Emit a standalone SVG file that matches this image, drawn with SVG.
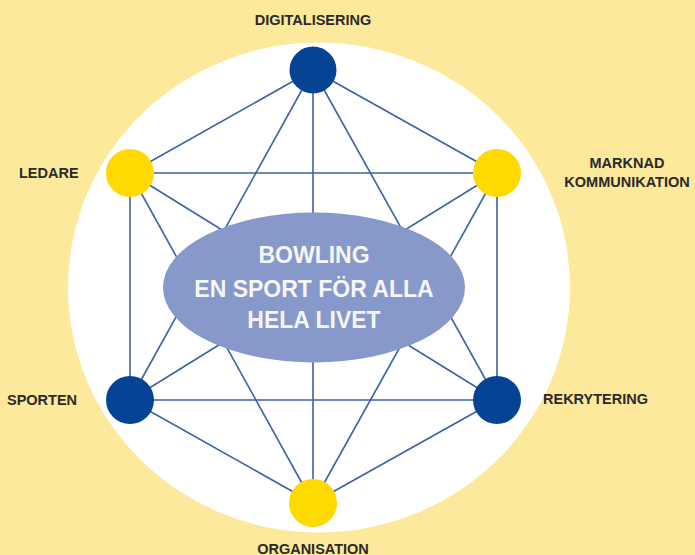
<svg xmlns="http://www.w3.org/2000/svg" width="695" height="555" viewBox="0 0 695 555">
<style>
.lbl{font-family:"Liberation Sans",Arial,sans-serif;font-weight:bold;font-size:14.5px;fill:#2a2a2a}
.ctr{font-family:"Liberation Sans",Arial,sans-serif;font-weight:bold;font-size:23px;fill:#f6f6f6;text-anchor:middle}
.edge{stroke:#3b62a6;stroke-width:1.6;fill:none}
.blue{fill:#054494}
.yellow{fill:#ffd900}
</style>
<rect x="0" y="0" width="695" height="555" fill="#fde99b"/>
<ellipse cx="319" cy="287.5" rx="251" ry="245" fill="#ffffff"/>
<g id="connectors" class="edge">
<line x1="313" y1="70" x2="130" y2="173"/>
<line x1="313" y1="70" x2="497" y2="173"/>
<line x1="313" y1="70" x2="130" y2="400"/>
<line x1="313" y1="70" x2="497" y2="400"/>
<line x1="313" y1="70" x2="313" y2="503"/>
<line x1="130" y1="173" x2="497" y2="173"/>
<line x1="130" y1="173" x2="130" y2="400"/>
<line x1="130" y1="173" x2="497" y2="400"/>
<line x1="130" y1="173" x2="313" y2="503"/>
<line x1="497" y1="173" x2="130" y2="400"/>
<line x1="497" y1="173" x2="497" y2="400"/>
<line x1="497" y1="173" x2="313" y2="503"/>
<line x1="130" y1="400" x2="497" y2="400"/>
<line x1="130" y1="400" x2="313" y2="503"/>
<line x1="497" y1="400" x2="313" y2="503"/>
</g>
<g id="center">
<ellipse cx="314" cy="287.5" rx="151" ry="75" fill="#8798cb"/>
<text class="ctr" x="314" y="263">BOWLING</text>
<text class="ctr" x="314" y="297">EN SPORT FÖR ALLA</text>
<text class="ctr" x="314" y="328">HELA LIVET</text>
</g>
<g id="digitalisering">
<circle class="blue" cx="313" cy="70" r="23.5"/>
<text class="lbl" x="313" y="25" text-anchor="middle">DIGITALISERING</text>
</g>
<g id="ledare">
<circle class="yellow" cx="130" cy="173" r="24"/>
<text class="lbl" x="19" y="178">LEDARE</text>
</g>
<g id="marknad">
<circle class="yellow" cx="497" cy="173" r="24"/>
<text class="lbl" x="627" y="168" text-anchor="middle">MARKNAD</text>
<text class="lbl" x="627" y="187" text-anchor="middle">KOMMUNIKATION</text>
</g>
<g id="sporten">
<circle class="blue" cx="130" cy="400" r="24"/>
<text class="lbl" x="7" y="405">SPORTEN</text>
</g>
<g id="rekrytering">
<circle class="blue" cx="497" cy="400" r="24"/>
<text class="lbl" x="543" y="404">REKRYTERING</text>
</g>
<g id="organisation">
<circle class="yellow" cx="313" cy="503" r="24"/>
<text class="lbl" x="313" y="554" text-anchor="middle">ORGANISATION</text>
</g>
</svg>
